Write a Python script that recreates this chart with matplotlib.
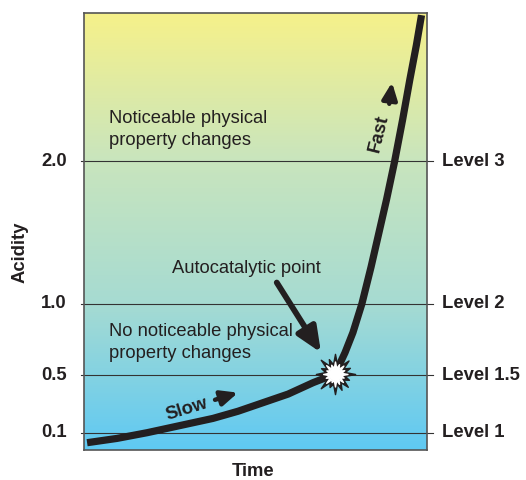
import numpy as np
import matplotlib.pyplot as plt
from matplotlib.colors import LinearSegmentedColormap
from matplotlib.path import Path

plt.rcParams['font.family'] = ['Liberation Sans', 'DejaVu Sans']

# curve (time in arbitrary units 0..10, acidity)
time = [0.09, 0.96, 1.84, 2.80, 3.76, 4.49, 5.22, 5.95, 6.68, 7.32, 7.61,
        7.84, 8.10, 8.37, 8.60, 8.82, 9.05, 9.29, 9.50, 9.69, 9.84]
acidity = [0.03, 0.06, 0.10, 0.15, 0.20, 0.25, 0.31, 0.37, 0.45, 0.51, 0.66,
           0.80, 1.00, 1.26, 1.50, 1.73, 1.99, 2.29, 2.57, 2.81, 3.02]

levels = [0.1, 0.5, 1.0, 2.0]
tick_labels = ['0.1', '0.5', '1.0', '2.0']
level_labels = ['Level 1', 'Level 1.5', 'Level 2', 'Level 3']

auto_point = (7.32, 0.51)

ink = '#231f20'

fig = plt.figure(figsize=(5.26, 4.8), dpi=100)
ax = fig.add_axes([84/526, 1-450/480, 343/526, 437/480])
ax.set_xlim(0, 10)
ax.set_ylim(-0.021, 3.035)

# gradient background
cmap = LinearSegmentedColormap.from_list('bg', ['#5fc9f3', '#a6dbd2', '#c9e5bd', '#f6f18a'])
grad = np.linspace(0, 1, 256).reshape(-1, 1)
ax.imshow(grad, extent=[0, 10, -0.021, 3.035], origin='lower', aspect='auto',
          cmap=cmap, zorder=0)

for sp in ax.spines.values():
    sp.set_color('#555555')
    sp.set_linewidth(1.2)
ax.set_xticks([])
ax.set_yticks([])

trans = ax.get_yaxis_transform()
for lv, tl, ll in zip(levels, tick_labels, level_labels):
    ax.plot([-0.009, 1.0175], [lv, lv], transform=trans, color='#333333',
            lw=0.8, clip_on=False, zorder=1)
    ax.text(-0.05, lv, tl, transform=trans, ha='right', va='center',
            fontsize=13.3, fontweight='bold', color=ink)
    ax.text(1.044, lv, ll, transform=trans, ha='left', va='center',
            fontsize=13.3, fontweight='bold', color=ink)

ax.plot(time, acidity, color=ink, lw=5.2, solid_capstyle='butt',
        solid_joinstyle='round', zorder=3)

# starburst at the autocatalytic point
n = 16
outer = [1.0, 0.8, 1.0, 0.75, 0.95, 0.8, 1.0, 0.7, 1.0, 0.85, 0.9, 0.75, 1.0, 0.8, 0.95, 0.85]
ang = np.linspace(0, 2*np.pi, 2*n, endpoint=False) + np.pi/2
rad = []
for i in range(n):
    rad += [outer[i], 0.5]
verts = np.column_stack([np.cos(ang)*rad, np.sin(ang)*rad])
verts = np.vstack([verts, verts[:1]])
star = Path(verts, closed=True)
ax.plot(*auto_point, marker=star, markersize=29, color=ink, mec=ink, zorder=4)
ax.plot(*auto_point, marker=star, markersize=18, color='white', mec='white', zorder=5)

# text annotations
ax.text(0.73, 2.22, 'Noticeable physical\nproperty changes', fontsize=13.2,
        color=ink, ha='left', va='center', linespacing=1.39)
ax.text(0.73, 0.73, 'No noticeable physical\nproperty changes', fontsize=13.2,
        color=ink, ha='left', va='center', linespacing=1.39)
ax.text(4.72, 1.25, 'Autocatalytic point', fontsize=13.2, color=ink,
        ha='center', va='center')
ax.annotate('', xy=(6.91, 0.66), xytext=(5.62, 1.15),
            arrowprops=dict(arrowstyle='-|>,head_length=1.5,head_width=0.65',
                            mutation_scale=10, lw=4.2, color=ink,
                            shrinkA=0, shrinkB=0))

ax.text(3.0, 0.26, 'Slow', fontsize=13.3, fontweight='bold', color=ink,
        rotation=17, ha='center', va='center')
ax.annotate('', xy=(4.49, 0.38), xytext=(3.82, 0.33),
            arrowprops=dict(arrowstyle='-|>,head_length=1.0,head_width=0.45',
                            mutation_scale=10, lw=3.2, color=ink,
                            shrinkA=0, shrinkB=0))

ax.text(8.60, 2.19, 'Fast', fontsize=13.3, fontweight='bold', color=ink,
        rotation=76, ha='center', va='center')
ax.annotate('', xy=(8.98, 2.55), xytext=(8.90, 2.40),
            arrowprops=dict(arrowstyle='-|>,head_length=1.0,head_width=0.45',
                            mutation_scale=10, lw=3.2, color=ink,
                            shrinkA=0, shrinkB=0))

fig.text(20/526, 1-252/480, 'Acidity', rotation=90, ha='center', va='center',
         fontsize=13.3, fontweight='bold', color=ink)
fig.text(253/526, 1-472/480, 'Time', ha='center', va='center',
         fontsize=13.3, fontweight='bold', color=ink)

fig.savefig('out.png', dpi=100)
